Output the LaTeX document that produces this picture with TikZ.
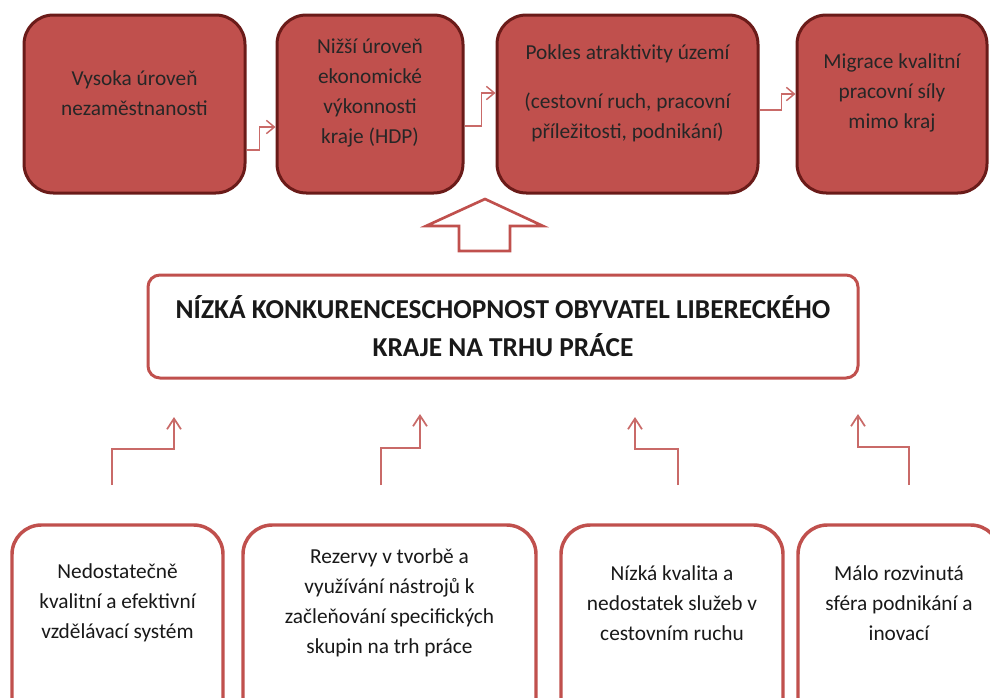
\documentclass[tikz,border=0pt]{standalone}
\usepackage{fontspec}
\setmainfont{Carlito}
\usetikzlibrary{arrows.meta}
\definecolor{accred}{HTML}{C0504D}
\definecolor{darkred}{HTML}{6A1B19}
\definecolor{inktext}{HTML}{262626}
\tikzset{
    topbox/.style={draw=darkred, line width=2.25pt, fill=accred, rounded corners=22pt, minimum height=133.5pt},
    toptext/.style={text=inktext, align=center, font=\fontsize{16}{22.5}\selectfont},
    mainbox/.style={draw=accred, line width=2.25pt, fill=white, rounded corners=9pt, minimum width=532.5pt, minimum height=77.25pt},
    maintext/.style={text=black!90, align=center, font=\fontsize{20.5}{28.5}\selectfont\bfseries},
    causebox/.style={draw=accred, line width=2.6pt, fill=white, rounded corners=22pt, minimum height=176.25pt},
    causetext/.style={text=black!90, align=center, font=\fontsize{16}{22.5}\selectfont},
    flowarrow/.style={draw=accred!85, line width=1.1pt, -{Straight Barb[length=6pt,width=10pt]}},
    steparrow/.style={draw=accred!85, line width=1.3pt, -{Straight Barb[length=8pt,width=10.5pt]}},
}
\begin{document}
\begin{tikzpicture}[x=0.75pt, y=-0.75pt]
    \useasboundingbox (0,0) rectangle (990,697);
    \clip (0,0) rectangle (990,697);
    % consequences
    \node[topbox, minimum width=165.75pt] (b1) at (134.5,104) {};
    \node[topbox, minimum width=139.5pt] (b2) at (370,104) {};
    \node[topbox, minimum width=195.75pt] (b3) at (627.5,104) {};
    \node[topbox, minimum width=142.5pt] (b4) at (892,104) {};
    \node[toptext] (t1) at (b1 |- 0,93) {Vysoka úroveň\\nezaměstnanosti};
    \node[toptext] (t2) at (b2 |- 0,93) {Nižší úroveň\\ekonomické\\výkonnosti\\kraje (HDP)};
    \node[toptext] (t3) at (b3 |- 0,93) {Pokles atraktivity území\\[14pt](cestovní ruch, pracovní\\příležitosti, podnikání)};
    \node[toptext] (t4) at (b4 |- 0,93) {Migrace kvalitní\\pracovní síly\\mimo kraj};
    \draw[flowarrow] (b1.east |- 0,150) -- ++(13,0) |- (b2.west |- 0,127);
    \draw[flowarrow] (b2.east |- 0,126) -- ++(17,0) |- (b3.west |- 0,93);
    \draw[flowarrow] (b3.east |- 0,110) -- ++(22,0) |- (b4.west |- 0,94);
    % big hollow arrow
    \draw[accred, line width=2pt, fill=white, line join=miter]
        (485,199) -- (543,226) -- (510,226) -- (510,251) -- (459,251) -- (459,226) -- (426,226) -- cycle;
    % main problem
    \node[mainbox] (main) at (503,326.5) {};
    \node[maintext] (mt) at (main) {NÍZKÁ KONKURENCESCHOPNOST OBYVATEL LIBERECKÉHO\\KRAJE NA TRHU PRÁCE};
    % causes
    \node[causebox, minimum width=158.25pt] (d1) at (117.5,642.5) {};
    \node[causebox, minimum width=219.75pt] (d2) at (389.5,642.5) {};
    \node[causebox, minimum width=166.5pt] (d3) at (672,642.5) {};
    \node[causebox, minimum width=151.5pt] (d4) at (899,642.5) {};
    \node[causetext] (c1) at (d1 |- 0,603) {Nedostatečně\\kvalitní a efektivní\\vzdělávací systém};
    \node[causetext] (c2) at (d2 |- 0,603) {Rezervy v tvorbě a\\využívání nástrojů k\\začleňování specifických\\skupin na trh práce};
    \node[causetext] (c3) at (d3 |- 0,603) {Nízká kvalita a\\nedostatek služeb v\\cestovním ruchu};
    \node[causetext] (c4) at (d4 |- 0,603) {Málo rozvinutá\\sféra podnikání a\\inovací};
    % step arrows
    \foreach \sx/\my/\ex/\ty [count=\i] in {112/449/174/417, 381/448/420/414, 678/449/635/417, 909/447/858/414} {
        \coordinate (s\i) at (\sx,485);
        \coordinate (e\i) at (\ex,\ty);
        \draw[steparrow] (s\i) -- (\sx,\my) -| (e\i);
    }
\end{tikzpicture}
\end{document}
